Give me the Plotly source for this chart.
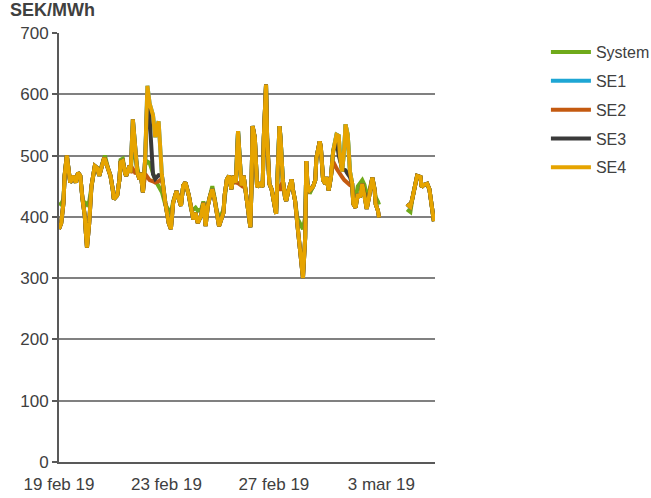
import pandas as pd
import plotly.graph_objects as go

# hour offsets from 19 feb 2019 00:00
hours = [0, 2, 4, 5, 7, 9, 10, 13, 15, 17, 19, 21, 23, 24, 25, 27, 29, 32, 34, 36, 38, 40, 41, 44, 46, 48, 49, 52,
         54, 55, 57, 59, 60, 63, 64, 66, 68, 70, 72, 73, 75, 77, 79, 81, 84, 86, 89, 92, 95, 98, 100, 102, 105, 107,
         109, 111, 113, 116, 118, 120, 122, 124, 127, 129, 131, 133, 135, 137, 139, 141, 143, 145, 147, 148, 150,
         152, 154, 156, 158, 160, 162, 163, 165, 168, 170, 171, 172, 173, 175, 177, 180, 182, 183, 185, 186, 188,
         190, 192, 194, 195, 197, 198, 200, 202, 203, 205, 208, 209, 211, 213, 215, 217, 218, 220, 221, 222, 224,
         227, 229, 230, 233, 234, 236, 238, 239, 241, 243, 245, 248, 250, 251, 253, 255, 256, 258, 260, 262, 263,
         265, 267, 269, 271, 273, 275, 277, 280, 282, 283, 285, 286, 298, 311, 314, 316, 318, 320, 323, 324, 326,
         329, 331, 333, 335]

se4 = [380, 390, 423, 467, 500, 467, 456, 467, 456, 472, 467, 429, 402, 374, 350, 390, 450, 483, 480, 467, 483, 494,
       494, 478, 467, 445, 429, 435, 461, 489, 491, 472, 467, 483, 472, 559, 521, 472, 461, 472, 440, 494, 614, 585,
       566, 530, 556, 467, 423, 390, 380, 423, 442, 429, 418, 451, 456, 435, 413, 396, 407, 390, 402, 423, 385, 418,
       434, 445, 429, 402, 385, 396, 407, 435, 461, 467, 445, 467, 456, 540, 494, 451, 467, 423, 400, 383, 449, 548,
       529, 449, 454, 449, 529, 616, 529, 454, 445, 421, 405, 454, 548, 529, 460, 432, 426, 443, 461, 445, 426, 388,
       356, 323, 300, 366, 491, 454, 443, 449, 460, 496, 523, 513, 460, 454, 465, 443, 465, 507, 534, 532, 501, 474,
       513, 551, 534, 474, 454, 421, 415, 437, 432, 454, 437, 413, 432, 464, 445, 421, 410, 399, None, 421, 416, 432,
       454, 467, 465, 449, 452, 454, 445, 421, 393]

system = [423, 420, 430, 467, 500, 467, 456, 467, 456, 472, 467, 430, 420, 422, 420, 425, 450, 483, 480, 467, 483,
          497, 500, 478, 467, 445, 429, 435, 461, 493, 495, 472, 467, 483, 472, 520, 500, 472, 461, 472, 440, 485,
          490, 488, 470, 460, 450, 440, 420, 410, 405, 425, 442, 429, 418, 451, 456, 435, 413, 412, 415, 410, 412,
          425, 410, 420, 438, 450, 432, 410, 400, 403, 412, 435, 461, 467, 445, 467, 456, 540, 494, 451, 467, 423,
          400, 383, 449, 548, 529, 449, 454, 449, 529, 616, 529, 454, 445, 421, 405, 454, 548, 529, 460, 432, 426,
          443, 461, 445, 426, 398, 392, 385, 380, 400, 480, 454, 438, 449, 460, 496, 523, 513, 460, 454, 465, 443,
          465, 507, 534, 532, 501, 474, 513, 551, 534, 474, 454, 421, 430, 450, 455, 460, 452, 435, 440, 464, 445,
          432, 425, 420, None, 412, 408, 432, 454, 467, 465, 449, 452, 454, 445, 421, 393]

se1 = list(se4)

se2 = [380, 390, 423, 467, 500, 467, 456, 467, 456, 472, 467, 429, 402, 374, 350, 390, 450, 483, 480, 467, 483, 494,
       494, 478, 467, 445, 429, 435, 461, 489, 491, 472, 467, 483, 472, 478, 472, 472, 461, 472, 440, 470, 465, 460,
       458, 456, 458, 462, 423, 390, 380, 423, 442, 429, 418, 451, 456, 435, 413, 396, 407, 390, 402, 423, 385, 418,
       434, 445, 429, 402, 385, 396, 407, 435, 461, 467, 445, 467, 456, 455, 452, 451, 467, 423, 400, 383, 449, 548,
       529, 449, 454, 449, 529, 616, 529, 454, 445, 421, 405, 454, 445, 445, 460, 432, 426, 443, 461, 445, 426, 388,
       356, 323, 300, 366, 491, 454, 443, 449, 460, 496, 523, 513, 460, 454, 465, 443, 465, 490, 479, 473, 468, 465,
       460, 458, 455, 452, 450, 421, 415, 437, 432, 454, 437, 413, 432, 464, 445, 421, 410, 399, None, 421, 416, 432,
       454, 467, 465, 449, 452, 454, 445, 421, 393]

se3 = [380, 390, 423, 467, 500, 467, 456, 467, 456, 472, 467, 429, 402, 374, 350, 390, 450, 483, 480, 467, 483, 494,
       494, 478, 467, 445, 429, 435, 461, 489, 491, 472, 467, 483, 472, 559, 521, 472, 461, 472, 440, 494, 600, 560,
       470, 462, 468, 467, 423, 390, 380, 423, 442, 429, 418, 451, 456, 435, 413, 396, 407, 390, 402, 423, 385, 418,
       434, 445, 429, 402, 385, 396, 407, 435, 461, 467, 445, 467, 456, 540, 494, 451, 467, 423, 400, 383, 449, 548,
       529, 449, 454, 449, 529, 616, 529, 454, 445, 421, 405, 454, 548, 529, 460, 432, 426, 443, 461, 445, 426, 388,
       356, 323, 300, 366, 491, 454, 443, 449, 460, 496, 523, 513, 460, 454, 465, 443, 465, 507, 525, 500, 490, 479,
       477, 476, 470, 465, 454, 421, 415, 437, 432, 454, 437, 413, 432, 464, 445, 421, 410, 399, None, 421, 416, 432,
       454, 467, 465, 449, 452, 454, 445, 421, 393]

tick_dates = ["2019-02-19", "2019-02-23", "2019-02-27", "2019-03-03"]
tick_text = ["19 feb 19", "23 feb 19", "27 feb 19", "3 mar 19"]

start = pd.Timestamp("2019-02-19 00:00")
times = [start + pd.Timedelta(hours=h) for h in hours]

series = [
    ("System", system, "#6FAA1A"),
    ("SE1", se1, "#1EA6D4"),
    ("SE2", se2, "#C45A10"),
    ("SE3", se3, "#3A3A3A"),
    ("SE4", se4, "#E6A400"),
]

FONT = "Liberation Sans"
fig = go.Figure()
for i, (name, vals, col) in enumerate(series):
    fig.add_trace(go.Scatter(x=times, y=vals, name=name, mode="lines",
                             line=dict(color=col, width=4), legendgroup=name))

fig.update_layout(
    width=651, height=498, autosize=False,
    margin=dict(l=59, r=216, t=33, b=36, pad=0, autoexpand=False),
    paper_bgcolor="white", plot_bgcolor="white",
    font=dict(family=FONT, size=17, color="#404040"),
    showlegend=True,
    legend=dict(x=1.295, y=0.995, xanchor="left", yanchor="top", itemwidth=40,
                font=dict(family=FONT, size=16, color="#404040"),
                traceorder="grouped", tracegroupgap=5, bgcolor="rgba(0,0,0,0)"),
    annotations=[dict(text="<b>SEK/MWh</b>", xref="paper", yref="paper",
                      x=-0.136, y=1.054, xanchor="left", yanchor="middle", showarrow=False,
                      font=dict(family=FONT, size=18, color="#404040"))],
)
fig.update_yaxes(range=[0, 700], dtick=100, showgrid=True, gridcolor="#808080", gridwidth=1.5,
                 showline=True, linecolor="#595959", linewidth=2, ticks="outside", ticklen=5,
                 tickcolor="#595959", tickwidth=2, zeroline=False, fixedrange=True)
fig.update_xaxes(type="date", range=["2019-02-19", "2019-03-05"], tickvals=tick_dates, ticktext=tick_text,
                 showgrid=False, showline=True, linecolor="#595959", linewidth=2, ticks="",
                 ticklabelstandoff=6, zeroline=False)

fig.write_html("out.html", config={"displayModeBar": False},
               post_script="document.body.style.margin='0';")
